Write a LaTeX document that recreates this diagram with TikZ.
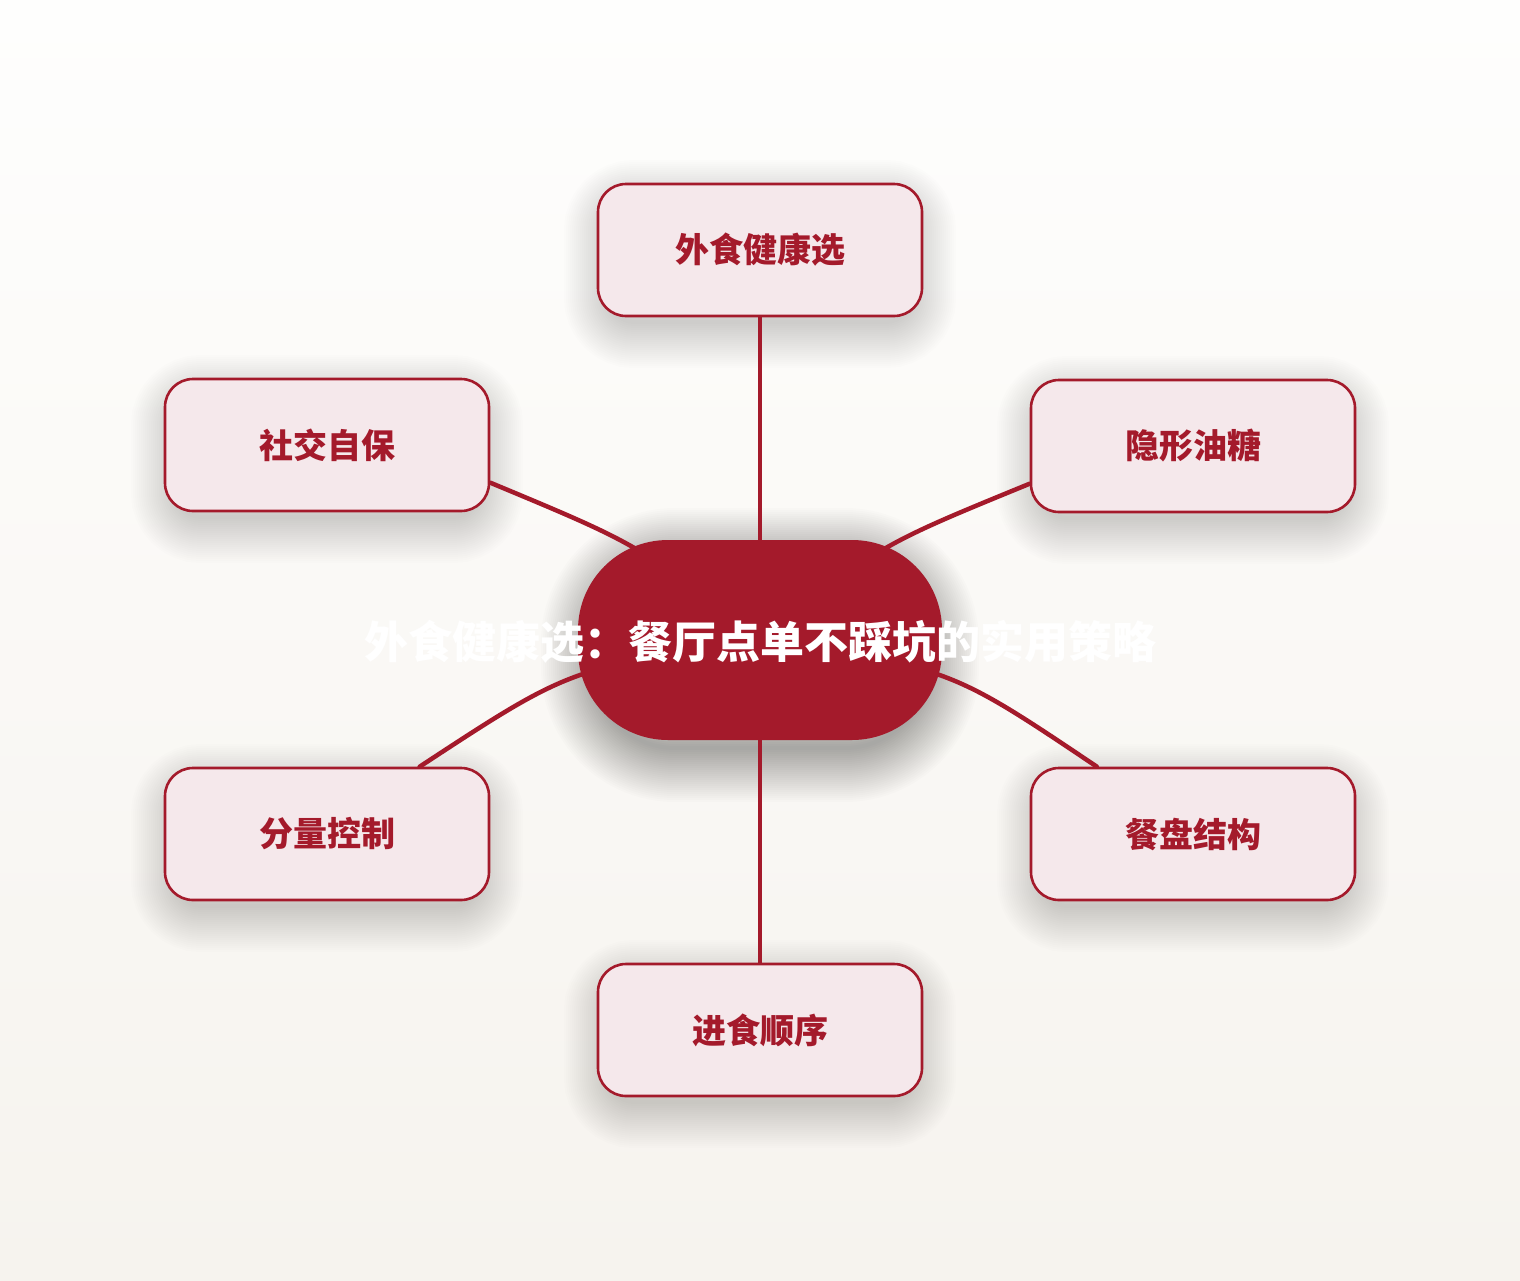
\documentclass[tikz,border=0pt]{standalone}
\usepackage{fontspec}
\newfontfamily\cjk{Noto Sans CJK SC}
\definecolor{mred}{HTML}{A41A2B}
\definecolor{boxfill}{HTML}{F5E8EB}
\definecolor{bgtop}{HTML}{FEFEFD}
\definecolor{bgbot}{HTML}{F6F3EE}
\pgfdeclarelayer{back}
\pgfdeclarelayer{edges}
\pgfsetlayers{back,edges,main}
\tikzset{
  topic/.style={draw=mred, line width=2.6pt, fill=boxfill, rounded corners=28pt,
    minimum width=324pt, minimum height=132pt, inner sep=0pt,
    text=mred, font=\cjk\bfseries\fontsize{34}{40}\selectfont},
  hub/.style={fill=mred, rounded corners=90pt, minimum width=364pt, minimum height=200pt, inner sep=0pt},
  shade/.style={black, opacity=0.009},
  title/.style={text=white, font=\cjk\bfseries\fontsize{44}{50}\selectfont, inner sep=0pt},
  link/.style={draw=mred, line width=4.5pt, line cap=round}
}
\begin{document}
\begin{tikzpicture}[x=1pt,y=-1pt]
\begin{pgfonlayer}{back}
  \fill[top color=bgtop, bottom color=bgbot] (0,0) rectangle (1520,1280);
  % soft shadow of the central node
  \foreach \w in {4,8,...,110} {
    \draw[shade, opacity=0.011, rounded corners=80pt, line width=\w pt] (595,562) rectangle (925,748);
  }
  % soft shadows of the topic boxes
  \foreach \x/\y in {760/250, 327/445, 1193/446, 327/834, 1193/834, 760/1030} {
    \foreach \w in {4,8,...,92} {
      \draw[shade, rounded corners=24pt, line width=\w pt] (\x-150,\y-44) rectangle (\x+150,\y+72);
    }
  }
\end{pgfonlayer}
\useasboundingbox (0,0) rectangle (1520,1280);

\node[hub] (c) at (760,640) {};
\node[title] (t) at (760,642) {外食健康选：餐厅点单不踩坑的实用策略};

\node[topic] (b1) at (760,250) {外食健康选};
\node[topic] (b2) at (327,445) {社交自保};
\node[topic] (b3) at (1193,446) {隐形油糖};
\node[topic] (b4) at (327,834) {分量控制};
\node[topic] (b5) at (1193,834) {餐盘结构};
\node[topic] (b6) at (760,1030) {进食顺序};

\begin{pgfonlayer}{edges}
  \draw[link] (b1.south) -- (c.center);
  \draw[link] (b6.north) -- (c.center);
  \draw[link] (b2.-13) .. controls (640,545) .. (c.center);
  \draw[link] (b3.193) .. controls (880,545) .. (c.center);
  \draw[link] (b4.36) .. controls (570,668) .. (c.center);
  \draw[link] (b5.145) .. controls (950,668) .. (c.center);
\end{pgfonlayer}
\end{tikzpicture}
\end{document}
